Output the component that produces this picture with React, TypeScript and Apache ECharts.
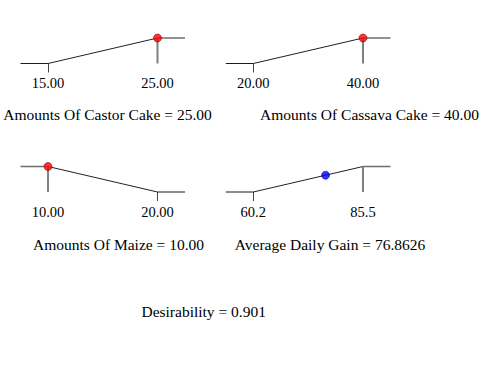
import React, { useEffect, useRef } from "react";
import * as echarts from "echarts";

// ---- data ----
const factorNames = [
  "Amounts Of Castor Cake",
  "Amounts Of Cassava Cake",
  "Amounts Of Maize",
  "Average Daily Gain",
];
const lows = [15, 20, 10, 60.2];
const highs = [25, 40, 20, 85.5];
const values = [25, 40, 10, 76.8626];
const goals = ["max", "max", "min", "max"];
const tickDecimals = [2, 2, 2, 1];
const valueDecimals = [2, 2, 2, 4];
const pointColors = ["#ff0000", "#ff0000", "#ff0000", "#0000ff"];
const pointBorders = ["#7a0000", "#7a0000", "#7a0000", "#00007a"];
const overallDesirability = 0.901;

// ---- layout (pixels) ----
const FONT = "'Liberation Serif', serif";
const LABEL_SIZE = 14.5;
const TITLE_SIZE = 15.5;
const colLowPx = [48, 253.3];
const colHighPx = [157.5, 363];
const rowTopPx = [38, 166.5];
const ROW_H = 25.5;
const EXT_PX = 27.5;
const titleX = [107.5, 369.5, 118.5, 330];
const titleY = [114.5, 114.5, 244.5, 244.5];

export default function App() {
  const ref = useRef<HTMLDivElement>(null);
  useEffect(() => {
    if (!ref.current) return;
    const chart = echarts.init(ref.current, undefined, { renderer: "svg" });
    const grids: any[] = [];
    const xAxes: any[] = [];
    const yAxes: any[] = [];
    const series: any[] = [];
    const graphics: any[] = [];

    factorNames.forEach((name, i) => {
      const col = i % 2;
      const row = Math.floor(i / 2);
      const lowPx = colLowPx[col];
      const highPx = colHighPx[col];
      const spanPx = highPx - lowPx;
      const low = lows[i];
      const high = highs[i];
      const extUnits = (EXT_PX / spanPx) * (high - low);
      const xmin = low - extUnits;
      const xmax = high + extUnits;
      const dL = goals[i] === "max" ? 0 : 1;
      const dR = 1 - dL;
      const v = values[i];
      const d =
        goals[i] === "max" ? (v - low) / (high - low) : (high - v) / (high - low);
      const clampD = Math.max(0, Math.min(1, d));

      grids.push({
        left: lowPx - EXT_PX,
        width: spanPx + 2 * EXT_PX,
        top: rowTopPx[row],
        height: ROW_H,
        containLabel: false,
      });
      const zeroEnd = dL === 0 ? low : high;
      const oneEnd = dL === 0 ? high : low;
      xAxes.push({
        type: "value",
        gridIndex: i,
        min: xmin,
        max: xmax,
        axisLine: { show: false },
        splitLine: { show: false },
        axisTick: {
          show: true,
          customValues: [zeroEnd],
          length: 9,
          lineStyle: { color: "#444", width: 1 },
        },
        axisLabel: {
          show: true,
          customValues: [low, high],
          formatter: (val: number) => val.toFixed(tickDecimals[i]),
          fontSize: LABEL_SIZE,
          fontFamily: FONT,
          color: "#000",
          margin: 12,
        },
      });
      yAxes.push({ type: "value", gridIndex: i, min: 0, max: 1, show: false });

      const base = {
        type: "line",
        xAxisIndex: i,
        yAxisIndex: i,
        symbol: "none",
        silent: true,
        clip: false,
      };
      series.push({
        ...base,
        data: dL === 0 ? [[xmin, 0], [low, 0]] : [[high, 0], [xmax, 0]],
        lineStyle: { color: "#1a1a1a", width: 1 },
      });
      series.push({
        ...base,
        data: [[low, dL], [high, dR]],
        lineStyle: { color: "#222", width: 1 },
      });
      series.push({
        ...base,
        data: dL === 0 ? [[high, 1], [xmax, 1]] : [[xmin, 1], [low, 1]],
        lineStyle: { color: "#6e6e6e", width: 1.5 },
      });
      series.push({
        ...base,
        data: [[oneEnd, 0], [oneEnd, 1]],
        lineStyle: { color: "#808080", width: 2 },
      });
      series.push({
        type: "scatter",
        xAxisIndex: i,
        yAxisIndex: i,
        silent: true,
        z: 5,
        symbolSize: 8,
        data: [[v, clampD]],
        itemStyle: {
          color: pointColors[i],
          borderColor: pointBorders[i],
          borderWidth: 0.7,
        },
      });

      graphics.push({
        type: "text",
        x: titleX[i],
        y: titleY[i],
        style: {
          text: `${name} = ${v.toFixed(valueDecimals[i])}`,
          fill: "#000",
          fontSize: TITLE_SIZE,
          fontFamily: FONT,
          align: "center",
          verticalAlign: "middle",
        },
      });
    });

    graphics.push({
      type: "text",
      x: 203.7,
      y: 311,
      style: {
        text: `Desirability = ${overallDesirability.toFixed(3)}`,
        fill: "#000",
        fontSize: TITLE_SIZE,
        fontFamily: FONT,
        align: "center",
        verticalAlign: "middle",
      },
    });

    chart.setOption({
      animation: false,
      backgroundColor: "#fff",
      grid: grids,
      xAxis: xAxes,
      yAxis: yAxes,
      series,
      graphic: graphics,
    });
    return () => chart.dispose();
  }, []);

  return (
    <div
      ref={ref}
      style={{ position: "fixed", left: 0, top: 0, width: 502, height: 387 }}
    />
  );
}
